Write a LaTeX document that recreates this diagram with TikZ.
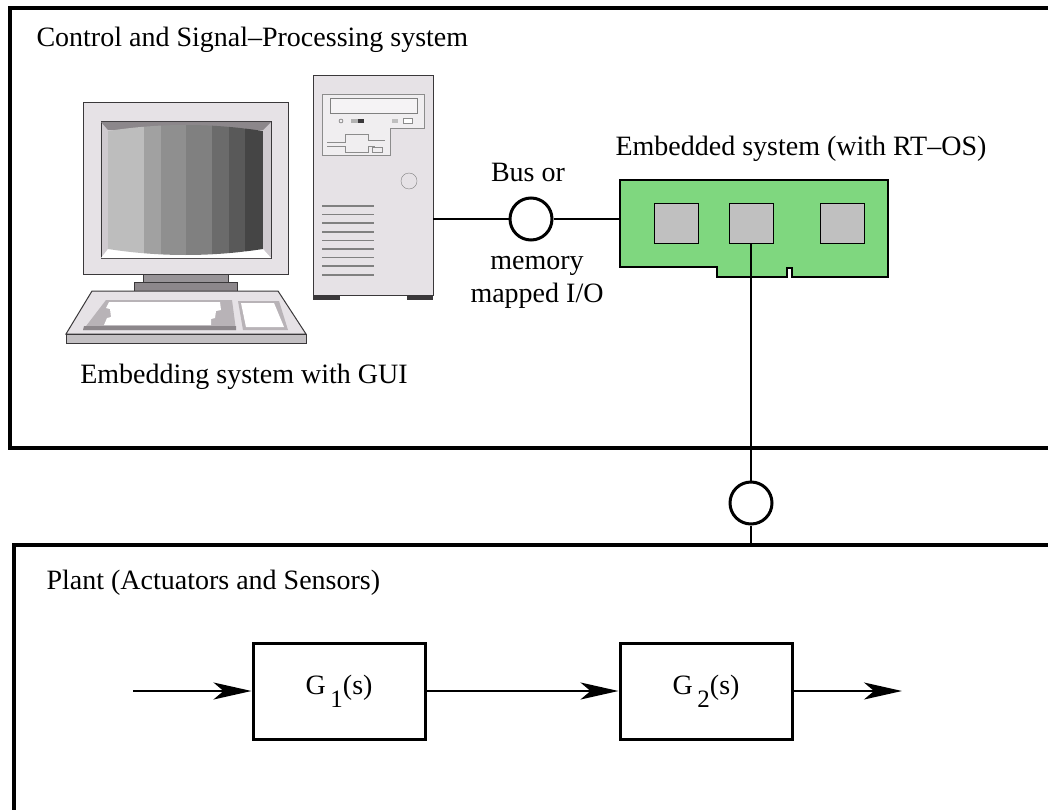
\documentclass[tikz,border=0pt]{standalone}
\usepackage{fontspec}
\setmainfont{Liberation Serif}
\usepackage{tikz}
\usetikzlibrary{positioning,calc,arrows.meta}
\definecolor{CaseGray}{HTML}{E6E2E6}
\definecolor{CaseEdge}{HTML}{3A383A}
\definecolor{BevelDark}{HTML}{8C878B}
\definecolor{BevelLight}{HTML}{CFCACF}
\definecolor{KeyWell}{HTML}{B8B3B7}
\definecolor{BoardGreen}{HTML}{7FD77F}
\definecolor{ChipGray}{HTML}{C0C0C0}

\begin{document}
\begin{tikzpicture}[x=1pt,y=-1pt,
    font=\fontsize{28}{33}\selectfont,
    frame/.style={line width=4pt},
    wire/.style={line width=2pt},
    port/.style={circle, draw, line width=3pt, minimum size=42pt, inner sep=0pt},
    chip/.style={draw, fill=ChipGray, line width=1pt, minimum width=44pt, minimum height=39pt, inner sep=0pt},
    block/.style={draw, line width=3pt, minimum width=172pt, minimum height=96pt, inner sep=0pt},
    flow/.style={line width=2pt, -{Stealth[length=38pt,width=17pt,inset=10pt]}},
    part/.style={draw=CaseEdge, line width=1pt}]
  \useasboundingbox (0,0) rectangle (1048,810);
  \clip (0,0) rectangle (1048,810);

  % the two system frames
  \draw[frame] (10,8) rectangle (1070,448);
  \draw[frame] (14,545) rectangle (1070,840);

  % monitor
  \filldraw[part, fill=CaseGray] (83,103) rectangle (288,274);
  \filldraw[part, fill=BevelLight] (101,122) rectangle (271,258);
  \fill[BevelDark] (101,122) -- (271,122) -- (263,130) -- (108,130) -- cycle;
  \fill[white] (108,249) -- (263,249) -- (271,258) -- (101,258) -- cycle;
  \begin{scope}
    \clip (108,131) .. controls (160,123) and (211,123) .. (263,131) -- (263,249)
      .. controls (211,257) and (160,257) .. (108,249) -- cycle;
    \foreach \xa/\xb/\sh in {108/144/26, 144/161/37, 161/186/44, 186/212/50,
                             212/229/58, 229/245/65, 245/263/73}
      \fill[black!\sh] (\xa,120) rectangle (\xb,262);
  \end{scope}
  \filldraw[part, fill=BevelDark!90!white] (143,274) rectangle (228,282);
  \filldraw[part, fill=BevelDark] (134,282) rectangle (237,291);

  % keyboard
  \filldraw[part, fill=CaseGray] (92,291) -- (278,291) -- (306,334) -- (66,334) -- cycle;
  \filldraw[part, fill=CaseGray!85!black] (66,334) rectangle (306,343);
  \fill[KeyWell] (106,300) -- (232,300) -- (236,330) -- (83,330) -- cycle;
  \fill[BevelDark] (84,326) -- (236,326) -- (236,330) -- (83,330) -- cycle;
  \fill[white] (109,302) -- (220,302) -- (221,310) -- (216,311) -- (215,318) -- (211,319)
    -- (211,325) -- (104,325) -- (107,318) -- (111,317) -- (110,309) -- (106,308) -- cycle;
  \fill[KeyWell] (238,301) -- (279,301) -- (288,330) -- (243,330) -- cycle;
  \fill[white] (241,303) -- (274,303) -- (284,327) -- (246,327) -- cycle;

  % tower
  \filldraw[part, fill=CaseGray] (313,76) rectangle (433,295);
  \fill[CaseEdge] (313,295) rectangle (340,300);
  \fill[CaseEdge] (407,295) rectangle (433,300);
  \draw[black!45, fill=CaseGray!60!white] (322,94) -- (424,94) -- (424,128) -- (390,128)
    -- (390,155) -- (322,155) -- cycle;
  \draw[black!50, fill=CaseGray!40!white] (330,98) rectangle (417,113);
  \draw[black!70] (341,121) circle[radius=2];
  \fill[black!30] (351,119) rectangle (358,123);
  \fill[CaseEdge] (358,119) rectangle (364,123);
  \fill[black!25] (392,119) rectangle (398,123);
  \draw[black!45, fill=white] (403,118) rectangle (412,123);
  \draw[black!45] (327,142) -- (345,142) -- (345,134) -- (368,134) -- (368,140) -- (385,140);
  \draw[black!45] (327,146) -- (345,146) -- (345,152) -- (368,152) -- (368,146) -- (375,146);
  \draw[black!45] (372,147) rectangle (382,152);
  \draw[black!50, fill=CaseGray] (409,181) circle[radius=8];
  \foreach \k in {0,...,8}
    \draw[black!50, line width=1.5pt] (322,{206+\k*8.6}) -- (374,{206+\k*8.6});
  \coordinate (towerport) at (433,219);

  % embedded board
  \filldraw[fill=BoardGreen, draw=black, line width=1.2pt]
    (620,180) -- (888,180) -- (888,277) -- (792,277) -- (792,268) -- (787,268)
    -- (787,277) -- (717,277) -- (717,267) -- (620,267) -- cycle;
  \coordinate (boardport) at (620,219);
  \node[chip] (chip1) at (676,223.5) {};
  \node[chip] (chip2) at (751,223.5) {};
  \node[chip] (chip3) at (842,223.5) {};

  % labels
  \node[anchor=west] (csplabel) at (33,40) {Control and Signal–Processing system};
  \node (guilabel) at (244,377) {Embedding system with GUI};
  \node[anchor=west] (rtlabel) at (612,149) {Embedded system (with RT–OS)};
  \node[anchor=west] (plantlabel) at (43,583) {Plant (Actuators and Sensors)};

  % bus between embedding and embedded system
  \node[port] (bus) at (531,219) {};
  \node (busor) at (528,172) {Bus or};
  \node[align=center] (busnote) at (537,282) {memory\\mapped I/O};
  \draw[wire] (towerport) -- (bus);
  \draw[wire] (bus) -- (boardport);

  % link down to the plant
  \node[port] (io) at (751,503) {};
  \coordinate (plantport) at (751,545);
  \draw[wire] (chip2.south) -- (io);
  \draw[wire] (io) -- (plantport);

  % plant blocks
  \node[block] (g1) at (339,691) {G\,\raisebox{-0.45em}{\fontsize{25}{25}\selectfont 1}(s)};
  \node[block] (g2) at (706,691) {G\,\raisebox{-0.45em}{\fontsize{25}{25}\selectfont 2}(s)};
  \coordinate (plantin) at (133,691);
  \coordinate (plantout) at (902,691);
  \draw[flow] (plantin) -- (g1);
  \draw[flow] (g1) -- (g2);
  \draw[flow] (g2) -- (plantout);
\end{tikzpicture}
\end{document}
